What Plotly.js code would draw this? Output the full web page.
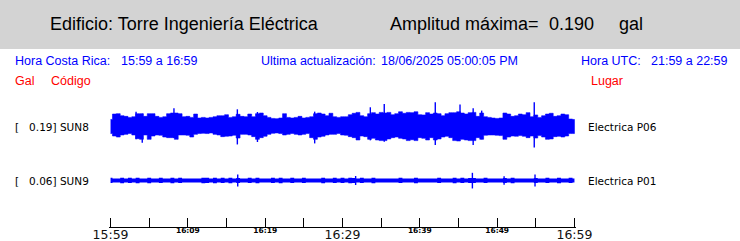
<!DOCTYPE html>
<html><head><meta charset="utf-8">
<script src="https://cdn.plot.ly/plotly-3.0.1.min.js"></script>
<style>html,body{margin:0;padding:0;background:#fff;overflow:hidden}</style>
</head><body><div id="chart" style="width:740px;height:241px"></div>
<script>
// ---- data ----
const stations = ['SUN8', 'SUN9'];
const maxAmp = ['0.19', '0.06'];
const places = ['Electrica P06', 'Electrica P01'];
const tickVals = [0, 5, 10, 15, 20, 25, 30, 35, 40, 45, 50, 55, 60];
const smallTickText = ['', '', '16:09', '', '16:19', '', '', '', '16:39', '', '16:49', '', ''];
const bigTickVals = [0, 30, 60];
const bigTickText = ['15:59', '16:29', '16:59'];
const sampleStepMin = 0.5; // envelope sampled every 30 s, minutes after 15:59

// SUN8 envelope (gal), upper and lower edge of the band
const sun8Top = [
 .055,.097,.100,.084,.079,.071,.076,.100,.100,.079,
 .100,.100,.079,.071,.076,.100,.105,.105,.100,.076,
 .079,.071,.097,.066,.071,.066,.071,.076,.084,.084,
 .092,.071,.076,.095,.079,.076,.097,.076,.100,.105,
 .084,.071,.063,.061,.066,.100,.071,.066,.071,.079,
 .066,.071,.076,.100,.105,.097,.084,.103,.076,.071,
 .076,.076,.092,.103,.110,.084,.076,.100,.108,.097,
 .110,.105,.110,.092,.100,.115,.103,.110,.108,.115,
 .092,.090,.108,.097,.105,.100,.084,.100,.108,.108,
 .115,.105,.097,.108,.110,.079,.105,.076,.071,.066,
 .063,.066,.105,.097,.079,.084,.097,.092,.108,.076,
 .090,.071,.084,.097,.103,.079,.084,.097,.092,.058,.055];
const sun8Bot = [
 -.055,-.074,-.082,-.066,-.061,-.055,-.066,-.095,-.100,-.066,
 -.100,-.074,-.066,-.068,-.082,-.087,-.087,-.100,-.066,-.066,
 -.068,-.082,-.061,-.055,-.053,-.055,-.050,-.061,-.066,-.079,
 -.076,-.074,-.068,-.090,-.061,-.061,-.066,-.079,-.100,-.087,
 -.076,-.061,-.053,-.050,-.055,-.066,-.061,-.055,-.061,-.066,
 -.061,-.055,-.087,-.100,-.082,-.076,-.066,-.061,-.061,-.055,
 -.066,-.068,-.079,-.087,-.105,-.074,-.079,-.100,-.092,-.105,
 -.110,-.110,-.097,-.087,-.082,-.092,-.097,-.110,-.103,-.110,
 -.087,-.092,-.105,-.087,-.105,-.097,-.082,-.076,-.087,-.110,
 -.113,-.100,-.105,-.110,-.110,-.087,-.100,-.068,-.066,-.066,
 -.068,-.071,-.100,-.082,-.074,-.076,-.071,-.076,-.087,-.074,
 -.090,-.071,-.082,-.100,-.097,-.079,-.076,-.082,-.074,-.055,-.055];
// SUN8 narrow spikes: time (min after 15:59), peak up, peak down (gal)
const sun8SpikeT   = [3.3, 4.1, 8.2, 16.4, 19.0, 26.4, 33.6, 35.4, 42.0, 45.2, 46.9, 48.0, 54.8];
const sun8SpikeTop = [.116, .100, .142, .134, .113, .116, .150, .176, .190, .171, .142, .124, .190];
const sun8SpikeBot = [-.100, -.126, -.090, -.140, -.121, -.132, -.108, -.118, -.145, -.100, -.145, -.100, -.163];

// SUN9 envelope (gal)
const sun9Top = [
 .022,.016,.016,.022,.016,.022,.016,.022,.016,.016,
 .022,.016,.016,.022,.016,.016,.022,.016,.022,.016,
 .016,.016,.016,.016,.022,.022,.016,.022,.016,.022,
 .016,.022,.016,.019,.016,.016,.022,.016,.022,.016,
 .016,.016,.022,.016,.022,.016,.016,.022,.016,.016,
 .022,.016,.016,.016,.016,.022,.016,.016,.022,.016,
 .022,.016,.022,.019,.016,.022,.016,.016,.022,.016,
 .016,.016,.016,.016,.016,.022,.016,.016,.016,.022,
 .016,.016,.016,.016,.016,.022,.016,.016,.016,.022,
 .016,.022,.016,.019,.019,.016,.016,.022,.016,.016,
 .016,.016,.019,.016,.022,.016,.016,.016,.016,.016,
 .019,.016,.016,.022,.016,.016,.022,.016,.016,.022,.016];
const sun9Bot = [
 -.019,-.016,-.016,-.022,-.016,-.019,-.016,-.022,-.016,-.016,
 -.022,-.016,-.016,-.019,-.016,-.016,-.022,-.016,-.019,-.016,
 -.016,-.016,-.016,-.016,-.022,-.019,-.016,-.022,-.016,-.019,
 -.016,-.022,-.016,-.019,-.016,-.016,-.019,-.016,-.022,-.016,
 -.016,-.016,-.019,-.016,-.022,-.016,-.016,-.019,-.016,-.016,
 -.019,-.016,-.016,-.016,-.016,-.022,-.016,-.016,-.019,-.016,
 -.019,-.016,-.022,-.019,-.016,-.019,-.016,-.016,-.022,-.016,
 -.016,-.016,-.016,-.016,-.016,-.019,-.016,-.016,-.016,-.022,
 -.016,-.016,-.016,-.016,-.016,-.019,-.016,-.016,-.016,-.022,
 -.016,-.019,-.016,-.019,-.019,-.016,-.016,-.019,-.016,-.016,
 -.016,-.016,-.019,-.016,-.022,-.016,-.016,-.016,-.016,-.016,
 -.019,-.016,-.016,-.019,-.016,-.016,-.022,-.016,-.016,-.019,-.016];
const sun9SpikeT   = [16.45, 31.7, 46.8, 50.9, 54.9];
const sun9SpikeTop = [.047, .035, .060, .033, .047];
const sun9SpikeBot = [-.047, -.035, -.062, -.033, -.047];

// ---- layout constants (pixels) ----
const W = 740, H = 241;
const XPAD = 0.2;                      // minutes of padding so end ticks are kept
const L = 109, PW = 467, T = 95, BOTTOM = 227, PH = BOTTOM - T;
const galPerPx = 0.0078;
const center8 = 126.5, center9 = 180.5;
const off8 = 0, off9 = -(center9 - center8) * galPerPx;
const yRange = [-(BOTTOM - center8) * galPerPx, (center8 - T) * galPerPx];
const px = x => (x - L) / PW;
const py = y => (BOTTOM - y) / PH;
const BLUE = '#0000ff', RED = '#ff0000';

function band(top, bot, off, xaxis, lw) {
  const xs = top.map((_, k) => k * sampleStepMin);
  const x = xs.concat(xs.slice().reverse());
  const y = top.map(v => v + off).concat(bot.map(v => v + off).reverse());
  return {type: 'scatter', mode: 'lines', x, y, xaxis, yaxis: 'y', fill: 'toself',
    fillcolor: BLUE, line: {color: BLUE, width: lw, shape: 'hvh'}, hoverinfo: 'skip'};
}
function spikes(t, up, dn, off, xaxis) {
  const x = [], y = [];
  t.forEach((tt, i) => { x.push(tt, tt, null); y.push(up[i] + off, dn[i] + off, null); });
  return {type: 'scatter', mode: 'lines', x, y, xaxis, yaxis: 'y',
    line: {color: BLUE, width: 1.4}, hoverinfo: 'skip'};
}

const traces = [
  band(sun8Top, sun8Bot, off8, 'x', 0.6),
  spikes(sun8SpikeT, sun8SpikeTop, sun8SpikeBot, off8, 'x'),
  band(sun9Top, sun9Bot, off9, 'x2', 0),
  spikes(sun9SpikeT, sun9SpikeTop, sun9SpikeBot, off9, 'x2')
];

const SANS = 'Liberation Sans, Arial, sans-serif';
const DJV = 'DejaVu Sans, sans-serif';
function ann(text, x, y, color, size, family) {
  return {text, x: px(x), y: py(y), xref: 'paper', yref: 'paper', xanchor: 'left', yanchor: 'middle',
    showarrow: false, font: {color, size, family}, borderpad: 0};
}
const NB = '\u00a0';
const annotations = [
  ann('Edificio: Torre Ingeniería Eléctrica', 49, 24, '#000', 18, SANS),
  ann('Amplitud máxima=', 389, 24, '#000', 18, SANS),
  ann('0.190', 548, 24, '#000', 18, SANS),
  ann('gal', 618, 24, '#000', 18, SANS),
  ann('Hora Costa Rica:', 14, 61, BLUE, 12.5, SANS),
  ann('15:59 a 16:59', 120, 61, BLUE, 12.5, SANS),
  ann('Ultima actualización:', 259.5, 61, BLUE, 12.5, SANS),
  ann('18/06/2025 05:00:05 PM', 379.5, 61, BLUE, 12.5, SANS),
  ann('Hora UTC:', 579.5, 61, BLUE, 12.5, SANS),
  ann('21:59 a 22:59', 649.5, 61, BLUE, 12.5, SANS),
  ann('Gal', 14, 81, RED, 12.5, SANS),
  ann('Código', 49.5, 81, RED, 12.5, SANS),
  ann('Lugar', 589.5, 81, RED, 12.5, SANS),
  ann('[' + NB + NB + NB + maxAmp[0] + '] ' + stations[0], 13.5, 126.5, '#000', 10.5, DJV),
  ann('[' + NB + NB + NB + maxAmp[1] + '] ' + stations[1], 13.5, 180.5, '#000', 10.5, DJV),
  ann(places[0], 586.5, 126.5, '#000', 10.5, DJV),
  ann(places[1], 586.5, 180.5, '#000', 10.5, DJV)
];

const axisLine = {showline: true, linecolor: '#000', linewidth: 1};
const layout = {
  width: W, height: H,
  margin: {l: L, r: W - L - PW, t: T, b: H - BOTTOM, pad: 0},
  paper_bgcolor: '#fff', plot_bgcolor: '#fff',
  showlegend: false,
  xaxis: Object.assign({range: [-XPAD, 60 + XPAD], tickmode: 'array', tickvals: tickVals, ticktext: smallTickText,
    ticks: 'inside', ticklen: 9, tickwidth: 1, tickcolor: '#000',
    showgrid: false, zeroline: false, ticklabelstandoff: -4,
    tickfont: {family: DJV, size: 7.5, color: '#000', weight: 'bold'}, automargin: false, fixedrange: true}, axisLine),
  xaxis2: Object.assign({range: [-XPAD, 60 + XPAD], overlaying: 'x', anchor: 'y', side: 'bottom',
    tickmode: 'array', tickvals: bigTickVals, ticktext: bigTickText, ticks: '',
    showgrid: false, zeroline: false, ticklabelstandoff: -4,
    tickfont: {family: DJV, size: 12.5, color: '#111'}, automargin: false, fixedrange: true}, axisLine),
  yaxis: {range: yRange, visible: false, showgrid: false, zeroline: false, fixedrange: true},
  shapes: [{type: 'rect', xref: 'paper', yref: 'paper', x0: px(0), x1: px(W), y0: py(49), y1: py(0),
    fillcolor: '#d3d3d3', line: {width: 0}, layer: 'below'}],
  annotations
};

Plotly.newPlot('chart', traces, layout, {displayModeBar: false, staticPlot: true});
</script>
</body></html>
